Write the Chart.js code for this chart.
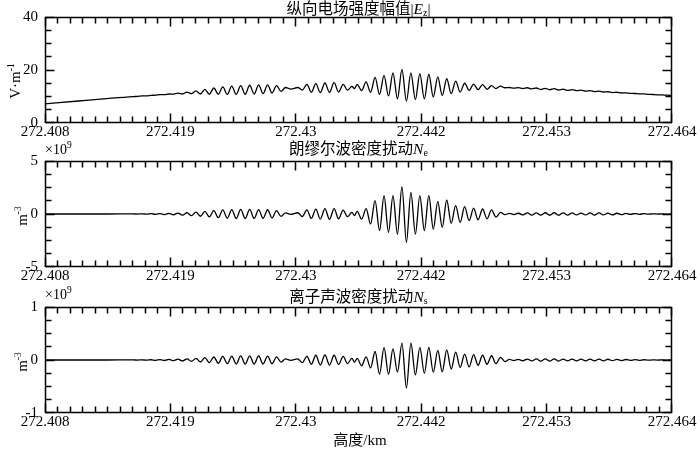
<!DOCTYPE html>
<html>
<head>
<meta charset="utf-8">
<script src="https://cdn.jsdelivr.net/npm/chart.js@4.4.1/dist/chart.umd.min.js"></script>
<style>
  html, body { margin: 0; padding: 0; background: #fff; }
  #wrap { position: relative; width: 700px; height: 452px; overflow: hidden; background: #fff; }
  canvas { position: absolute; left: 0; }
  .txt { position: absolute; font-family: 'Liberation Serif', 'Noto Sans CJK SC', serif; color: #000; white-space: nowrap; }
  .ttl { left: 45px; width: 627px; text-align: center; font-size: 15.5px; line-height: 17px; }
  .ttl sub { font-size: 10px; vertical-align: -2px; line-height: 0; }
  .mul { left: 45px; font-size: 14px; line-height: 14px; }
  .mul sup, .ylab sup { font-size: 9.5px; vertical-align: 6px; line-height: 0; }
  .ylab { font-size: 15px; line-height: 15px; transform: translate(-50%, -50%) rotate(-90deg); }
  .xlab { left: 45px; width: 630px; text-align: center; font-size: 15px; line-height: 16px; }
</style>
</head>
<body>
<div id="wrap">
  <canvas id="ezCanvas" width="700" height="145" style="top:0px"></canvas>
  <canvas id="neCanvas" width="700" height="145" style="top:145px"></canvas>
  <canvas id="nsCanvas" width="700" height="162" style="top:290px"></canvas>

  <div class="txt ttl" style="top:0px">纵向电场强度幅值|<i>E</i><sub>z</sub>|</div>
  <div class="txt ttl" style="top:140px">朗缪尔波密度扰动<i>N</i><sub>e</sub></div>
  <div class="txt ttl" style="top:288px">离子声波密度扰动<i>N</i><sub>s</sub></div>

  <div class="txt mul" style="top:143px">×10<sup>9</sup></div>
  <div class="txt mul" style="top:288px">×10<sup>9</sup></div>

  <div class="txt ylab" style="left:15px; top:81px">V·m<sup>-1</sup></div>
  <div class="txt ylab" style="left:22px; top:216px">m<sup>-3</sup></div>
  <div class="txt ylab" style="left:22px; top:362px">m<sup>-3</sup></div>

  <div class="txt xlab" style="top:432px">高度/km</div>
</div>

<script>
// Height axis (km)
const xTickValues = [272.408, 272.4192, 272.4304, 272.4416, 272.4528, 272.464];
const xTickLabels = ['272.408', '272.419', '272.43', '272.442', '272.453', '272.464'];

// y ticks for each panel
const ezTicks = [0, 20, 40];
const neTicks = [-5, 0, 5];
const nsTicks = [-1, 0, 1];

// Heights of the peaks / troughs
const heightKm = [
    272.408, 272.411, 272.4135,
    272.41588, 272.41628, 272.41668, 272.41708, 272.41748, 272.41788, 272.41828, 272.41868,
    272.41908, 272.41948, 272.41988, 272.42028, 272.42068, 272.42108, 272.42148, 272.42188,
    272.42228, 272.42268, 272.42308, 272.42348, 272.42388, 272.42428, 272.42468, 272.42508,
    272.42548, 272.42588, 272.42628, 272.42668, 272.42708, 272.42748, 272.42788, 272.42828,
    272.42868, 272.42908, 272.42948, 272.42994,
    272.43058, 272.43098, 272.43139, 272.43179, 272.43219, 272.43259, 272.43300, 272.43341,
    272.43382, 272.43422, 272.43463, 272.43502, 272.43541, 272.43564,
    272.43588, 272.43628, 272.43668, 272.43708, 272.43748, 272.43788, 272.43828, 272.43868,
    272.43908, 272.43948, 272.43988, 272.44028, 272.44068, 272.44108, 272.44148, 272.44188,
    272.44228, 272.44268, 272.44308, 272.44348, 272.44388, 272.44428, 272.44468, 272.44508,
    272.44548, 272.44588, 272.44628, 272.44668, 272.44708, 272.44748, 272.44788, 272.44828,
    272.44868, 272.44908,
    272.44948, 272.44988, 272.45028, 272.45068, 272.45108, 272.45148, 272.45188, 272.45228,
    272.45268, 272.45308, 272.45348, 272.45388, 272.45428, 272.45468, 272.45508, 272.45548,
    272.45588, 272.45628, 272.45668, 272.45708, 272.45748, 272.45788, 272.45828, 272.45868,
    272.45908, 272.45948, 272.45988, 272.46028, 272.46068, 272.46108, 272.46148, 272.46188,
    272.46228, 272.46268, 272.46308, 272.46348, 272.46388,
    272.464
];

// |Ez| (V/m)
const ezVals = [
    7.2, 8.3, 9.2,
    9.97, 10.05, 10.2, 10.25, 10.45, 10.5, 10.68, 10.7,
    10.95, 10.9, 11.25, 10.95, 11.65, 11.05, 12.1, 10.95,
    12.7, 10.85, 13.2, 10.85, 13.6, 10.8, 13.9, 10.8,
    14.1, 10.85, 14.25, 10.95, 14.35, 11.1, 14.4, 11.3,
    14.1, 11.9, 13.4, 12.8,
    13.4, 12.4, 14.6, 11.6, 14.85, 11.5, 15.1, 11.6,
    15.2, 11.7, 14.6, 12.4, 13.8, 13.0,
    14.6, 12.2, 15.5, 11.6, 17.2, 10.8, 18.0, 10.2,
    18.9, 9.1, 20.2, 8.25, 18.9, 8.8, 18.6, 9.1,
    18.4, 9.8, 17.4, 10.4, 16.7, 11.05, 15.8, 11.7,
    15.0, 12.3, 14.7, 12.6, 14.5, 12.7, 14.1, 13.0,
    13.9, 13.3,
    13.4, 13.15, 13.35, 13.0, 13.3, 12.85, 13.2, 12.65,
    13.1, 12.55, 12.95, 12.45, 12.75, 12.3, 12.6, 12.2,
    12.4, 12.0, 12.2, 11.85, 12.05, 11.7, 11.8, 11.5,
    11.6, 11.32, 11.36, 11.15, 11.14, 10.97, 10.97, 10.83,
    10.76, 10.64, 10.6, 10.5, 10.42,
    10.4
];

// Langmuir wave density perturbation Ne (x1e9 m^-3)
const neVals = [
    0, 0, 0,
    0.01, -0.01, 0.02, -0.02, 0.03, -0.03, 0.04, -0.05,
    0.06, -0.07, 0.08, -0.1, 0.12, -0.15, 0.18, -0.21,
    0.25, -0.28, 0.32, -0.35, 0.38, -0.4, 0.42, -0.43,
    0.43, -0.43, 0.43, -0.42, 0.42, -0.41, 0.4, -0.38,
    0.32, -0.22, 0.1, -0.04,
    0.12, -0.25, 0.38, -0.42, 0.46, -0.48, 0.5, -0.5,
    0.5, -0.45, 0.36, -0.25, 0.15, -0.15,
    0.25, -0.47, 0.5, -0.94, 1.26, -1.57, 1.73, -1.73,
    1.73, -1.89, 2.58, -2.67, 2.04, -1.89, 1.73, -1.57,
    1.73, -1.42, 1.2, -1.26, 1.32, -0.88, 0.79, -0.79,
    0.69, -0.63, 0.55, -0.55, 0.47, -0.45, 0.38, -0.3,
    0.15, -0.06,
    0.06, -0.05, 0.07, -0.08, 0.1, -0.1, 0.11, -0.11,
    0.12, -0.12, 0.12, -0.12, 0.11, -0.1, 0.1, -0.09,
    0.09, -0.09, 0.1, -0.1, 0.1, -0.09, 0.09, -0.08,
    0.07, -0.06, 0.05, -0.04, 0.04, -0.03, 0.03, -0.02,
    0.02, -0.01, 0.01, -0.01, 0.005,
    0
];

// Ion acoustic wave density perturbation Ns (x1e9 m^-3)
const nsVals = [
    0, 0, 0,
    0.002, -0.002, 0.004, -0.004, 0.005, -0.006, 0.007, -0.009,
    0.011, -0.013, 0.015, -0.018, 0.022, -0.027, 0.032, -0.038,
    0.045, -0.05, 0.057, -0.062, 0.067, -0.07, 0.074, -0.076,
    0.077, -0.078, 0.078, -0.077, 0.076, -0.075, 0.073, -0.07,
    0.06, -0.04, 0.02, -0.008,
    0.02, -0.05, 0.07, -0.08, 0.09, -0.095, 0.095, -0.095,
    0.09, -0.085, 0.07, -0.07, 0.03, -0.04,
    0.03, -0.11, 0.06, -0.15, 0.16, -0.27, 0.24, -0.27,
    0.21, -0.23, 0.32, -0.53, 0.32, -0.28, 0.24, -0.25,
    0.24, -0.23, 0.18, -0.22, 0.19, -0.17, 0.15, -0.14,
    0.11, -0.13, 0.1, -0.1, 0.09, -0.08, 0.08, -0.07,
    0.05, -0.03,
    0.01, -0.01, 0.012, -0.014, 0.016, -0.018, 0.02, -0.02,
    0.02, -0.02, 0.02, -0.02, 0.018, -0.017, 0.016, -0.016,
    0.016, -0.016, 0.017, -0.017, 0.016, -0.015, 0.014, -0.013,
    0.012, -0.01, 0.009, -0.008, 0.007, -0.006, 0.005, -0.004,
    0.003, -0.002, 0.002, -0.001, 0.001,
    0
];

const tickFont = { family: "'Liberation Serif', 'Times New Roman', serif", size: 15 };

// Box frame + inward major / minor ticks on all four sides
const frameTicks = {
    id: 'frameTicks',
    afterDraw(chart) {
        const { ctx, chartArea: a, scales: { x, y } } = chart;
        const step = chart.options.plugins.frameTicks.step;
        const L = Math.round(a.left) + 0.5, R = Math.round(a.right) - 0.5;
        const T = Math.round(a.top) + 0.5, B = Math.round(a.bottom) - 0.5;
        ctx.save();
        ctx.strokeStyle = '#000';
        ctx.lineWidth = 1.5;
        ctx.lineCap = 'butt';
        ctx.beginPath();

        // x ticks, 10 minor steps per major step
        for (let k = 0; k <= 50; k++) {
            const px = Math.min(Math.max(Math.floor(x.getPixelForValue(xTickValues[0] + k * 0.00112)) + 0.5, L), R);
            const len = k % 10 === 0 ? 9 : 6;
            ctx.moveTo(px, T); ctx.lineTo(px, T + len);
            ctx.moveTo(px, B); ctx.lineTo(px, B - len);
        }

        // y ticks, 4 minor steps per major step
        const n = Math.round((y.max - y.min) / step);
        for (let k = 0; k <= n; k++) {
            const py = Math.min(Math.max(Math.floor(y.getPixelForValue(y.min + k * step)) + 0.5, T), B);
            const len = k % 4 === 0 ? 9 : 6;
            ctx.moveTo(L, py); ctx.lineTo(L + len, py);
            ctx.moveTo(R, py); ctx.lineTo(R - len, py);
        }
        ctx.stroke();

        // frame
        ctx.strokeRect(L, T, R - L, B - T);
        ctx.restore();
    }
};

function makePanel(canvasId, vals, yTicks, minorStep, padTop, axisHeight) {
    const context = document.getElementById(canvasId).getContext('2d');

    return new Chart(context, {
        type: 'line',
        data: {
            datasets: [
                {
                    data: heightKm.map((h, i) => ({ x: h, y: vals[i] })),
                    borderColor: '#000',
                    borderWidth: 1.3,
                    pointRadius: 0,
                    cubicInterpolationMode: 'monotone',
                    fill: false
                }
            ]
        },
        options: {
            responsive: false,
            animation: false,
            events: [],
            layout: { padding: { top: padTop, right: 28, left: 0, bottom: 0 } },
            scales: {
                x: {
                    type: 'linear',
                    min: xTickValues[0],
                    max: xTickValues[xTickValues.length - 1],
                    afterBuildTicks: s => { s.ticks = xTickValues.map(v => ({ value: v })); },
                    afterFit: s => { s.height = axisHeight; s.paddingLeft = 0; s.paddingRight = 0; },
                    grid: { display: false, drawTicks: false },
                    border: { display: false },
                    ticks: {
                        autoSkip: false,
                        maxRotation: 0,
                        padding: 0,
                        color: '#000',
                        font: tickFont,
                        callback: (v, i) => xTickLabels[i]
                    }
                },
                y: {
                    min: yTicks[0],
                    max: yTicks[yTicks.length - 1],
                    afterBuildTicks: s => { s.ticks = yTicks.map(v => ({ value: v })); },
                    afterFit: s => { s.width = 45; s.paddingTop = 0; s.paddingBottom = 0; },
                    grid: { display: false, drawTicks: false },
                    border: { display: false },
                    ticks: { padding: 7, color: '#000', font: tickFont }
                }
            },
            plugins: {
                legend: { display: false },
                tooltip: { enabled: false },
                frameTicks: { step: minorStep }
            }
        },
        plugins: [frameTicks]
    });
}

makePanel('ezCanvas', ezVals, ezTicks, 5, 17, 22);
makePanel('neCanvas', neVals, neTicks, 1.25, 16, 23);
makePanel('nsCanvas', nsVals, nsTicks, 0.25, 17, 39);
</script>
</body>
</html>
